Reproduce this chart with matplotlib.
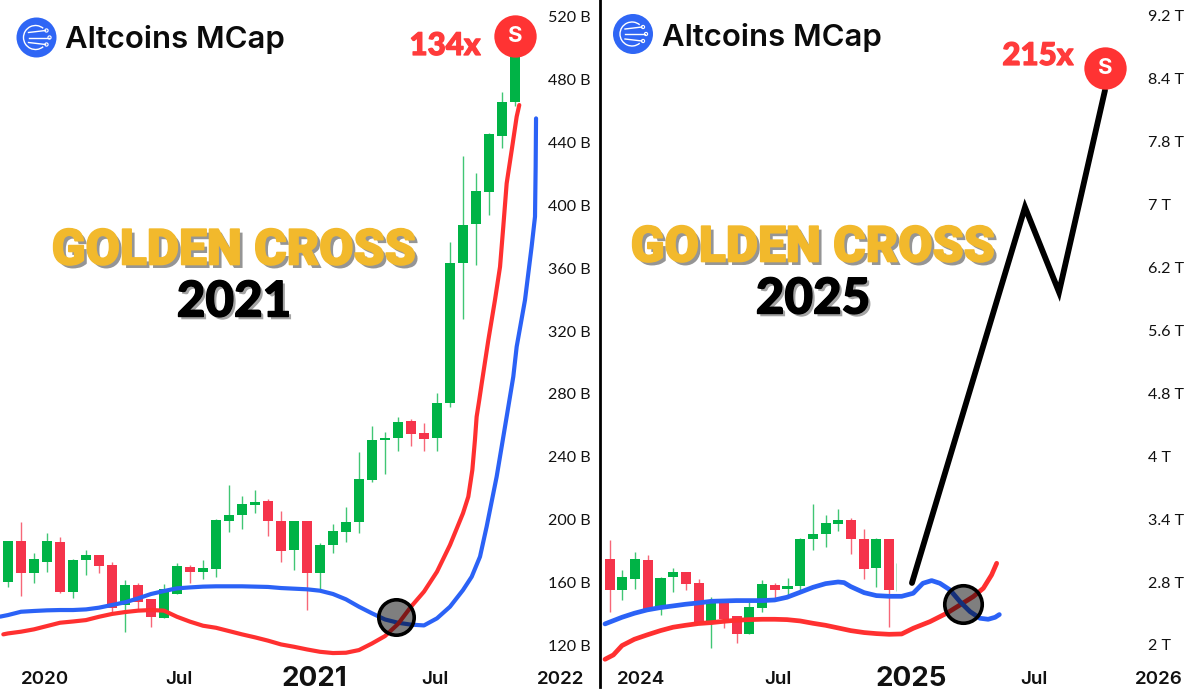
import matplotlib

matplotlib.use("Agg")
import matplotlib.patheffects as pe
import matplotlib.pyplot as plt
from matplotlib.lines import Line2D
from matplotlib.patches import Arc, Circle

GREEN = "#00B346"
RED = "#F5344B"
MA_RED = "#FF3030"
MA_BLUE = "#2B62F6"
GOLD = "#F2B92C"

# 2020-2021 candles, billions
left_open = [160.3, 186.2, 166.1, 173.1, 185.6, 154.0, 174.1, 177.5, 170.7, 145.5, 158.4, 149.1, 137.4, 152.3,
             169.5, 166.7, 168.6, 199.2, 202.8, 209.2, 211.7, 199.0, 180.5, 199.2, 165.6, 183.7, 192.2, 198.6,
             225.1, 250.4, 252.0, 262.9, 254.8, 251.6, 273.9, 363.5, 388.1, 408.7, 444.2, 465.9]
left_close = [186.2, 166.1, 174.8, 186.2, 154.0, 174.1, 177.5, 170.1, 143.4, 158.4, 147.6, 137.6, 155.5, 170.1,
              166.3, 168.8, 199.6, 202.6, 209.6, 211.3, 199.2, 180.1, 199.2, 166.1, 183.5, 192.6, 198.3, 225.5,
              250.6, 251.8, 262.2, 254.6, 251.0, 273.9, 363.1, 387.5, 409.1, 445.2, 466.0, 500.0]
left_high = [186.2, 198.6, 178.8, 191.1, 188.6, 174.6, 180.5, 177.5, 173.1, 161.4, 159.7, 149.1, 158.9, 172.0,
             170.7, 174.1, 200.0, 221.9, 214.9, 218.7, 212.8, 205.4, 199.2, 199.2, 184.8, 196.9, 207.7, 242.7,
             259.5, 255.9, 265.0, 264.0, 261.2, 280.3, 376.4, 431.4, 420.4, 445.9, 472.2, 500.0]
left_low = [156.7, 151.4, 159.7, 166.5, 153.3, 149.9, 164.8, 166.1, 141.0, 128.5, 142.3, 131.7, 137.4, 152.3,
            159.7, 161.8, 163.5, 192.2, 193.9, 204.3, 189.4, 173.1, 167.8, 142.3, 155.0, 178.4, 185.8, 191.1,
            224.1, 228.9, 243.8, 246.7, 243.8, 243.8, 271.3, 327.4, 362.0, 393.9, 436.7, 463.3]

left_blue_x = [-0.6, 0, 1, 2, 3, 4, 5, 6, 7, 8, 9, 10, 11, 12, 13, 14, 15, 16, 17, 18, 19, 20, 21, 22, 23, 24, 25,
               26, 27, 28, 29, 30, 31, 32, 33, 34, 35, 35.67, 36.31, 36.82, 37.59, 38.36, 38.87, 39.13, 39.77, 40.28,
               40.54, 40.59, 40.62]
left_blue_y = [138.1, 139.1, 141.2, 141.7, 142.1, 142.3, 142.3, 142.7, 143.8, 145.5, 147.2, 149.7, 152.5, 154.4,
               156.1, 156.7, 157.2, 157.4, 157.4, 157.4, 157.2, 157.0, 156.3, 155.9, 155.5, 154.6, 152.5, 149.1,
               144.4, 140.2, 136.3, 134.2, 133.0, 132.5, 137.0, 144.4, 155.0, 163.5, 176.3, 195.4, 227.2, 265.4,
               290.9, 310.0, 339.7, 373.7, 392.8, 424.6, 455.4]
left_red_x = [-0.36, 0, 1, 2, 3, 4, 5, 6, 7, 8, 9, 10, 11, 12, 13, 14, 15, 16, 17, 18, 19, 20, 21, 22, 23, 24, 25,
              26, 27, 28, 29, 30, 31, 32, 33, 34, 35, 35.41, 35.72, 35.92, 36.05, 36.25, 36.44, 36.95, 37.46, 37.85,
              38.1, 38.36, 38.75, 39.13, 39.33]
left_red_y = [126.8, 127.4, 128.5, 130.0, 132.1, 134.2, 135.0, 135.9, 138.0, 139.8, 141.0, 141.9, 142.3, 141.9,
              138.0, 134.9, 132.3, 131.0, 128.9, 126.8, 124.9, 122.8, 120.4, 118.9, 117.2, 115.7, 114.9, 115.1,
              116.8, 121.0, 125.7, 133.4, 144.4, 154.0, 166.7, 183.7, 203.9, 214.5, 231.5, 250.6, 265.4, 276.0,
              286.6, 314.2, 339.7, 360.9, 386.4, 414.0, 435.3, 456.5, 463.9]

# 2024-2025 candles, trillions
right_open = [2.985, 2.634, 2.756, 2.973, 2.420, 2.775, 2.832, 2.706, 2.264, 2.485, 2.332, 2.122, 2.428, 2.687,
              2.641, 2.676, 3.214, 3.275, 3.389, 3.435, 3.210, 2.882, 3.214]
right_close = [2.634, 2.783, 2.985, 2.412, 2.771, 2.832, 2.702, 2.264, 2.477, 2.302, 2.130, 2.432, 2.695, 2.634,
               2.680, 3.217, 3.271, 3.393, 3.431, 3.214, 2.874, 3.214, 2.634]
right_high = [3.202, 2.859, 3.069, 3.031, 2.783, 2.878, 2.832, 2.752, 2.546, 2.485, 2.332, 2.496, 2.744, 2.706,
              2.771, 3.229, 3.614, 3.488, 3.557, 3.458, 3.324, 3.225, 3.218]
right_low = [2.374, 2.515, 2.641, 2.412, 2.344, 2.611, 2.630, 2.264, 1.970, 2.191, 2.027, 2.122, 2.382, 2.535,
             2.561, 2.611, 3.088, 3.126, 3.305, 3.038, 2.752, 2.660, 2.210]

right_blue_x = [-0.37, 0.97, 1.94, 2.94, 3.99, 4.99, 5.96, 6.96, 8.01, 9, 9.97, 10.97, 12.02, 12.99, 13.96, 14.99,
                16.01, 17, 17.98, 18.45, 18.98, 20.03, 21, 22, 22.99, 23.9, 24.66, 25.35, 26, 26.8, 27.58, 28.37,
                29.15, 29.8, 30.35, 30.68]
right_blue_y = [2.241, 2.317, 2.363, 2.401, 2.428, 2.447, 2.466, 2.481, 2.500, 2.504, 2.508, 2.508, 2.508, 2.515,
                2.546, 2.603, 2.660, 2.702, 2.721, 2.714, 2.668, 2.599, 2.565, 2.557, 2.557, 2.592, 2.706, 2.737,
                2.706, 2.630, 2.496, 2.382, 2.306, 2.294, 2.317, 2.348]
right_red_x = [-0.37, 0.29, 0.97, 1.94, 2.94, 3.99, 4.99, 5.96, 6.96, 8.01, 9, 9.97, 10.97, 12.02, 12.99, 13.96,
               14.99, 16.01, 17, 17.98, 18.98, 20.03, 21, 22, 22.99, 23.9, 25.22, 26.53, 27.58, 28.63, 29.42, 30.07,
               30.47]
right_red_y = [1.836, 1.886, 1.993, 2.065, 2.115, 2.164, 2.203, 2.225, 2.245, 2.256, 2.271, 2.283, 2.290, 2.294,
               2.294, 2.290, 2.275, 2.248, 2.225, 2.195, 2.164, 2.142, 2.130, 2.122, 2.126, 2.191, 2.267, 2.363,
               2.458, 2.554, 2.649, 2.802, 2.935]

projection_x = [23.8, 32.7, 35.38, 39.0]
projection_y = [2.71, 7.01, 6.04, 8.35]

left_ticks = [120, 160, 200, 240, 280, 320, 360, 400, 440, 480, 520]
left_tick_labels = ["120 B", "160 B", "200 B", "240 B", "280 B", "320 B", "360 B", "400 B", "440 B", "480 B", "520 B"]
right_ticks = [2.0, 2.72, 3.44, 4.16, 4.88, 5.6, 6.32, 7.04, 7.76, 8.48, 9.2]
right_tick_labels = ["2 T", "2.8 T", "3.4 T", "4 T", "4.8 T", "5.6 T", "6.2 T", "7 T", "7.8 T", "8.4 T", "9.2 T"]

left_xticks = [2.85, 13.15, 23.54, 32.85, 42.54]
left_xlabels = ["2020", "Jul", "2021", "Jul", "2022"]
right_xticks = [2.46, 13.25, 23.7, 33.4, 43.2]
right_xlabels = ["2024", "Jul", "2025", "Jul", "2026"]


def draw_candles(ax, opens, closes, highs, lows, width):
    for i in range(len(opens)):
        color = GREEN if closes[i] >= opens[i] else RED
        ax.vlines(i, lows[i], highs[i], color=color, lw=1.0, alpha=0.75, zorder=2)
        ax.bar(i, closes[i] - opens[i], bottom=opens[i], width=width, color=color, zorder=3)


def setup_axes(ax, xticks, xlabels, yticks, ylabels):
    for spine in ax.spines.values():
        spine.set_visible(False)
    ax.yaxis.tick_right()
    ax.set_yticks(yticks, ylabels)
    ax.tick_params(axis="y", length=0, pad=-37.5, labelsize=11.6)
    ax.set_xticks(xticks, xlabels)
    ax.tick_params(axis="x", length=0, pad=-15, labelsize=13.5)
    for label in ax.get_yticklabels():
        label.set_fontfamily("Lato")
        label.set_color("#111111")
    for label, text in zip(ax.get_xticklabels(), xlabels):
        label.set_fontfamily("Inter")
        label.set_fontweight("semibold")
        label.set_color("#111111")
        label.set_va("center")
        if text in ("2021", "2025"):
            label.set_fontsize(20)
            label.set_fontweight("bold")


def add_marks(ax, cross_x, cross_y, cross_ms, sell_x, sell_y):
    ax.plot([cross_x], [cross_y], "o", ms=cross_ms, mfc=(0, 0, 0, 0.5), mec="black", mew=2.6, zorder=6)
    ax.plot([sell_x], [sell_y], "o", ms=30.5, color="#FF3333", mew=0, zorder=6)
    ax.text(sell_x, sell_y, "S", color="white", fontsize=16, fontweight="bold", family="Inter",
            ha="center", va="center", zorder=7)


fig = plt.figure(figsize=(12, 7), dpi=100)

ax_left = fig.add_axes([0, 0, 0.5, 1])
draw_candles(ax_left, left_open, left_close, left_high, left_low, 0.77)
ax_left.plot(left_blue_x, left_blue_y, color=MA_BLUE, lw=3.0, solid_capstyle="round", zorder=4)
ax_left.plot(left_red_x, left_red_y, color=MA_RED, lw=3.0, solid_capstyle="round", zorder=5)
add_marks(ax_left, 29.84, 137.8, 25.5, 39.0, 507.9)
ax_left.set_xlim(-0.615, 45.54)
ax_left.set_ylim(85, 530.8)
setup_axes(ax_left, left_xticks, left_xlabels, left_ticks, left_tick_labels)

ax_right = fig.add_axes([0.5, 0, 0.5, 1])
draw_candles(ax_right, right_open, right_close, right_high, right_low, 0.79)
ax_right.vlines(22.55, 2.62, 2.94, color=GREEN, lw=0.7, alpha=0.3, zorder=2)
ax_right.plot(right_blue_x, right_blue_y, color=MA_BLUE, lw=3.4, solid_capstyle="round", zorder=5)
ax_right.plot(right_red_x, right_red_y, color=MA_RED, lw=3.4, solid_capstyle="round", zorder=4)
ax_right.plot(projection_x, projection_y, color="black", lw=4.2, solid_capstyle="round", solid_joinstyle="miter",
              zorder=4)
add_marks(ax_right, 27.83, 2.47, 27, 39.0, 8.6)
ax_right.set_xlim(-0.764, 46.48)
ax_right.set_ylim(1.37, 9.383)
setup_axes(ax_right, right_xticks, right_xlabels, right_ticks, right_tick_labels)

# overlay in pixels for logos, headlines and the divider
overlay = fig.add_axes([0, 0, 1, 1], facecolor="none")
overlay.set_xlim(0, 1200)
overlay.set_ylim(700, 0)
overlay.axis("off")
overlay.add_artist(Line2D([600, 600], [0, 687], color="black", lw=2.0))


def add_logo(cx, cy):
    overlay.add_patch(Circle((cx, cy), 20, color="#2F66F5", lw=0))
    overlay.add_patch(Arc((cx - 1, cy), 24, 24, theta1=50, theta2=310, color="white", lw=1.0))
    for dy, end in [(-5, 11), (0, 14), (5, 11)]:
        overlay.plot([cx - 8, cx + end - 2], [cy + dy, cy + dy * 1.4], color="white", lw=1.0)
        overlay.add_patch(Circle((cx + end - 1, cy + dy * 1.4), 1.6, fc="#2F66F5", ec="white", lw=0.8))


def add_headline(cx, cy, title, year):
    overlay.text(cx, cy + 4, title, color=GOLD, fontsize=35.8, family="Roboto", fontweight="black", ha="center",
                 va="center", path_effects=[pe.withSimplePatchShadow(offset=(2.5, -2.5), shadow_rgbFace="#8a8a8a",
                                                                     alpha=0.9),
                                            pe.Stroke(linewidth=1.2, foreground=GOLD), pe.Normal()])
    overlay.text(cx, cy + 55, year, color="black", fontsize=35.5, family="Lato", fontweight="black", ha="center",
                 va="center", path_effects=[pe.withSimplePatchShadow(offset=(2, -2), shadow_rgbFace="#9a9a9a",
                                                                     alpha=0.9),
                                            pe.Stroke(linewidth=1.0, foreground="black"), pe.Normal()])


add_logo(36.5, 37.5)
overlay.text(65, 39, "Altcoins MCap", fontsize=22.4, family="Inter", fontweight="semibold", color="#0b0b0b",
             va="center", ha="left")
add_logo(633, 34)
overlay.text(662, 37, "Altcoins MCap", fontsize=22.4, family="Inter", fontweight="semibold", color="#0b0b0b",
             va="center", ha="left")
add_headline(234, 247, "GOLDEN CROSS", "2021")
add_headline(813, 244, "GOLDEN CROSS", "2025")
stroke = [pe.Stroke(linewidth=0.9, foreground="#FF3B3B"), pe.Normal()]
overlay.text(445, 46, "134x", color="#FF3B3B", fontsize=22.5, family="Lato", fontweight="black", ha="center",
             va="center", path_effects=stroke)
overlay.text(1038, 56, "215x", color="#FF3B3B", fontsize=22.5, family="Lato", fontweight="black", ha="center",
             va="center", path_effects=stroke)

fig.savefig("out.png", dpi=100, facecolor="white")
